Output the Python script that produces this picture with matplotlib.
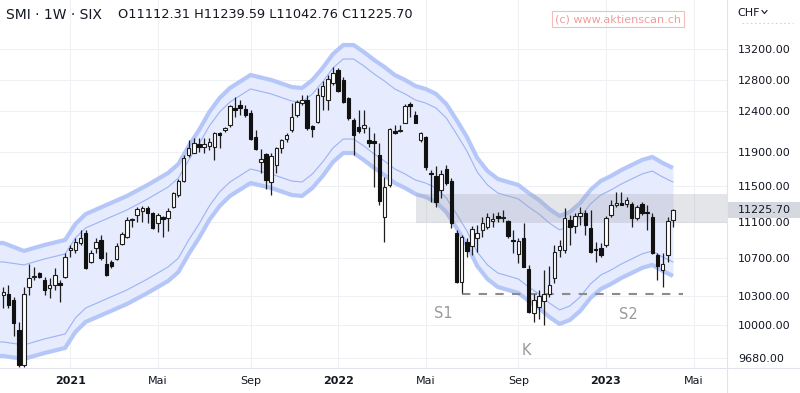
import numpy as np
import pandas as pd
import matplotlib
matplotlib.use("Agg")
import matplotlib.pyplot as plt
from matplotlib.ticker import NullLocator
from matplotlib.patches import Rectangle
from matplotlib.lines import Line2D

# weekly SMI candles, first week starts Monday 2020-10-05
start = pd.Timestamp("2020-10-05")

opens = [10311, 10321, 10260, 9955, 9611, 10398, 10500, 10538, 10468, 10380,
         10415, 10440, 10495, 10788, 10788, 10860, 10970, 10662, 10806, 10897,
         10634, 10655, 10687, 10853, 10934, 11118, 11173, 11222, 11248, 11192,
         11080, 11155, 11136, 11267, 11400, 11562, 11867, 11895, 11995, 11967,
         11975, 11967, 12120, 12169, 12230, 12437, 12478, 12424, 12383, 12087,
         11787, 11879, 11550, 11749, 11955, 12059, 12169, 12354, 12499, 12541,
         12218, 12271, 12593, 12541, 12754, 12925, 12796, 12562, 12292, 12201,
         12189, 12047, 12035, 11867, 11150, 11515, 12157, 12160, 12255, 12487,
         12354, 12047, 12087, 11660, 11620, 11458, 11702, 11562, 10974, 10447,
         10875, 10831, 10919, 11007, 11040, 11110, 11162, 11140, 11107, 10897,
         10745, 10915, 10584, 10124, 10188, 10245, 10321, 10488, 10788, 10788,
         11118, 11051, 11162, 11200, 11030, 10797, 10806, 10842, 11173, 11290,
         11313, 11298, 11298, 11140, 11298, 11210, 11150, 10734, 10573, 10734,
         11112.31]
highs = [10398, 10415, 10295, 10040, 10398, 10637, 10610, 10555, 10503, 10485,
         10590, 10468, 10752, 10842, 10915, 11007, 11007, 10788, 10915, 10952,
         10770, 10680, 10860, 10988, 11148, 11136, 11267, 11275, 11275, 11210,
         11192, 11165, 11248, 11438, 11581, 11867, 12047, 12067, 12067, 12067,
         12067, 12148, 12140, 12209, 12478, 12574, 12541, 12478, 12416, 12169,
         11935, 11895, 11887, 11963, 12063, 12136, 12507, 12541, 12605, 12605,
         12230, 12689, 12787, 12860, 12970, 12946, 12838, 12583, 12313, 12416,
         12416, 12209, 12135, 12007, 11608, 12193, 12230, 12230, 12487, 12520,
         12408, 12148, 12096, 11690, 11737, 11690, 11749, 11596, 11007, 10952,
         10915, 11051, 11062, 11155, 11200, 11192, 11210, 11230, 11118, 11007,
         10915, 11080, 10627, 10321, 10363, 10573, 10616, 10842, 10897, 11248,
         11173, 11192, 11267, 11230, 11230, 10875, 10860, 11162, 11343, 11438,
         11438, 11381, 11320, 11286, 11320, 11286, 11200, 10752, 10752, 11155,
         11239.59]
lows = [10177, 10177, 9890, 9595, 9595, 10311, 10468, 10485, 10311, 10277,
        10363, 10240, 10485, 10716, 10752, 10842, 10580, 10645, 10752, 10680,
        10510, 10590, 10680, 10842, 10915, 11045, 11100, 11100, 11080, 11015,
        10988, 10934, 11000, 11248, 11374, 11550, 11847, 11887, 11907, 11887,
        11927, 11808, 11947, 12148, 12209, 12334, 12354, 12334, 12047, 11927,
        11651, 11466, 11400, 11651, 11887, 12027, 12148, 12334, 12478, 12169,
        12087, 12251, 12416, 12416, 12732, 12640, 12499, 12292, 11867, 12128,
        12128, 11967, 11490, 11286, 10875, 11492, 12120, 12140, 12251, 12334,
        12251, 12027, 11690, 11320, 11260, 11366, 11515, 11030, 10433, 10335,
        10716, 10734, 10770, 10934, 11015, 11040, 11100, 11100, 10915, 10760,
        10652, 10600, 10130, 10030, 10066, 10005, 10295, 10433, 10716, 10752,
        10842, 10974, 11062, 10952, 10752, 10662, 10716, 10824, 11155, 11267,
        11286, 11267, 11040, 11118, 11173, 11007, 10742, 10468, 10398, 10662,
        11042.76]
closes = [10342, 10208, 10025, 9611, 10321, 10485, 10505, 10503, 10363, 10415,
          10520, 10420, 10709, 10806, 10879, 10922, 10591, 10752, 10879, 10698,
          10520, 10616, 10831, 10963, 11118, 11129, 11237, 11256, 11200, 11025,
          11173, 11125, 11222, 11426, 11565, 11832, 11947, 12007, 11967, 11995,
          12027, 12128, 12112, 12189, 12466, 12416, 12437, 12354, 12059, 11939,
          11816, 11573, 11851, 11955, 12051, 12108, 12325, 12520, 12541, 12193,
          12177, 12605, 12720, 12805, 12886, 12652, 12520, 12313, 12108, 12160,
          12230, 12015, 12011, 11331, 11492, 12181, 12133, 12175, 12466, 12466,
          12255, 12128, 11726, 11645, 11320, 11643, 11538, 11085, 10447, 10930,
          10777, 11018, 10974, 11085, 11155, 11125, 11136, 11150, 10941, 10880,
          10886, 10605, 10136, 10260, 10300, 10321, 10415, 10770, 10831, 11140,
          11040, 11162, 11192, 11062, 10766, 10788, 10734, 11140, 11286, 11305,
          11290, 11343, 11140, 11260, 11196, 11192, 10750, 10616, 10637, 11107,
          11225.70]

# envelope (read at candle index positions)
band_idx = [-1, 0, 4, 8, 12, 14, 16, 20, 24, 28, 32, 34, 36, 38, 40, 42, 44, 48, 52, 56,
            58, 60, 62, 64, 66, 68, 70, 72, 74, 76, 78, 80, 82, 84, 86, 88, 90, 92, 94, 96,
            98, 100, 102, 104, 106, 108, 110, 112, 114, 116, 118, 120, 122, 124, 126, 128, 130]
band_upper = [10864, 10864, 10777, 10842, 10897, 11073, 11184, 11286, 11389, 11515,
              11655, 11761, 11975, 12169, 12391, 12566, 12693, 12860, 12796, 12706,
              12693, 12796, 12951, 13134, 13253, 13253, 13160, 13055, 12964, 12860,
              12796, 12719, 12681, 12618, 12491, 12292, 12084, 11832, 11678, 11585,
              11550, 11515, 11423, 11343, 11241, 11162, 11207, 11309, 11458, 11562,
              11620, 11690, 11749, 11808, 11844, 11773, 11714]
band_upper_in = [10659, 10659, 10627, 10691, 10745, 10919, 11029, 11129, 11230, 11354,
                 11492, 11596, 11808, 11999, 12218, 12391, 12516, 12681, 12618, 12528,
                 12516, 12618, 12770, 12951, 13068, 13068, 12977, 12873, 12783, 12681,
                 12618, 12541, 12503, 12441, 12317, 12120, 11915, 11667, 11515, 11423,
                 11389, 11354, 11264, 11184, 11084, 11007, 11051, 11151, 11298, 11400,
                 11458, 11527, 11585, 11643, 11678, 11608, 11550]
band_lower_in = [9836, 9836, 9806, 9866, 9915, 10076, 10177, 10270, 10363, 10478,
                 10606, 10701, 10897, 11073, 11275, 11435, 11550, 11702, 11643, 11561,
                 11550, 11643, 11784, 11951, 12059, 12059, 11975, 11879, 11796, 11702,
                 11643, 11573, 11538, 11481, 11366, 11184, 10996, 10766, 10627, 10541,
                 10510, 10478, 10394, 10321, 10229, 10157, 10198, 10291, 10426, 10520,
                 10573, 10637, 10691, 10745, 10777, 10712, 10659]
band_lower = [9698, 9698, 9670, 9727, 9777, 9935, 10036, 10126, 10218, 10332,
              10457, 10552, 10745, 10919, 11118, 11275, 11389, 11538, 11481, 11400,
              11389, 11481, 11619, 11784, 11891, 11891, 11808, 11714, 11631, 11538,
              11481, 11412, 11377, 11320, 11207, 11029, 10842, 10616, 10478, 10394,
              10363, 10332, 10250, 10177, 10086, 10015, 10056, 10147, 10280, 10373,
              10426, 10489, 10541, 10595, 10627, 10563, 10510]

# resistance zone and support line
zone_lo, zone_hi = 11080, 11416
zone_start = 80.1
support = 10320
support_from, support_to = 89.1, 132.0

ytick_vals = [9680, 10000, 10300, 10700, 11100, 11500, 11900, 12400, 12800, 13200]
xtick_dates = ["2021-01-01", "2021-05-01", "2021-09-01", "2022-01-01",
               "2022-05-01", "2022-09-01", "2023-01-01", "2023-05-01"]
xtick_labels = ["2021", "Mai", "Sep", "2022", "Mai", "Sep", "2023", "Mai"]

marks = [("S1", 85.4, 10126), ("K", 101.5, 9747), ("S2", 121.3, 10106)]

o = np.array(opens); h = np.array(highs); l = np.array(lows); c = np.array(closes)
x = np.arange(len(o))

W, H = 800, 393
fig = plt.figure(figsize=(W / 100, H / 100), dpi=100)
ax = fig.add_axes([0, 25 / H, 727 / W, 368 / H])
ax.set_yscale("log")

# band
ax.fill_between(band_idx, band_lower, band_upper, color="#e6ebfd", lw=0, zorder=1)
for vals in (band_upper, band_lower):
    ax.plot(band_idx, vals, color="#b5c7f8", lw=3.0, solid_capstyle="butt", zorder=1.5)
for vals in (band_upper_in, band_lower_in):
    ax.plot(band_idx, vals, color="#9cb3f4", lw=0.8, zorder=1.6)

# zone + support
ax.fill_between([zone_start, 141], zone_lo, zone_hi, color="#a0a3ad", alpha=0.28, lw=0, zorder=2)
ax.plot([support_from, support_to], [support, support], color="#8c8c8c", lw=1.5,
        linestyle=(0, (4, 4)), zorder=2.5)

# candles
up = c >= o
bottoms = np.minimum(o, c)
heights = np.maximum(np.abs(c - o), bottoms * 0.0012)
ax.vlines(x, l, h, color="#1e1e1e", lw=0.9, zorder=3)
ax.bar(x[up], heights[up], bottom=bottoms[up], width=0.68, color="white",
       edgecolor="#1e1e1e", linewidth=0.8, zorder=4)
ax.bar(x[~up], heights[~up], bottom=bottoms[~up], width=0.68, color="#111111",
       edgecolor="#111111", linewidth=0.8, zorder=4)

for txt, xi, yi in marks:
    ax.text(xi, yi, txt, fontsize=10.5, color="#9a9a9a", ha="center", va="center", zorder=5)

# axes styling
ax.set_xlim(-0.64, 140.5)
ax.set_ylim(9582, 13866)
ax.yaxis.tick_right()
ax.set_yticks(ytick_vals, labels=[f"{v:.2f}" for v in ytick_vals])
ax.yaxis.set_minor_locator(NullLocator())
xt = [int(np.ceil((pd.Timestamp(d) - start).days / 7)) for d in xtick_dates]
ax.set_xticks(xt, labels=xtick_labels)
for lbl in ax.get_xticklabels():
    if lbl.get_text().isdigit():
        lbl.set_fontweight("bold")
ax.tick_params(axis="y", length=0, pad=8, labelsize=8, labelcolor="#131722")
ax.tick_params(axis="x", length=0, pad=6, labelsize=8, labelcolor="#131722")
ax.grid(True, color="#eef0f3", lw=0.8)
ax.set_axisbelow(True)
for s in ax.spines.values():
    s.set_visible(False)

fig.add_artist(Line2D([727 / W, 727 / W], [0, 1], color="#e0e3eb", lw=0.8))
fig.add_artist(Line2D([0, 1], [25 / H, 25 / H], color="#e0e3eb", lw=0.8))

# header
fig.text(6 / W, 1 - 15 / H, "SMI · 1W · SIX", fontsize=10, color="#131722", va="center")
fig.text(118 / W, 1 - 15 / H,
         f"O{o[-1]:.2f} H{h[-1]:.2f} L{l[-1]:.2f} C{c[-1]:.2f}",
         fontsize=9.3, color="#131722", va="center")
fig.text(618 / W, 1 - 19 / H, "(c) www.aktienscan.ch", fontsize=8, color="#f29c9c",
         ha="center", va="center",
         bbox=dict(boxstyle="square,pad=0.25", fc="none", ec="#f6bcbc", lw=0.8))
fig.text(737 / W, 1 - 13 / H, "CHF", fontsize=8, color="#131722", va="center")
cy = 1 - 12 / H
fig.add_artist(Line2D([762 / W, 764.5 / W, 767 / W], [cy + 1.5 / H, cy - 1.5 / H, cy + 1.5 / H],
                      color="#131722", lw=0.8))
fig.add_artist(Line2D([742 / W, 793 / W], [1 - 23 / H, 1 - 23 / H], color="#c8cad0",
                      lw=0.6, linestyle=(0, (2, 3))))

# last price marker on the axis
yf = ax.transData.transform((0, c[-1]))[1] / fig.bbox.height
fig.add_artist(Rectangle((728 / W, yf - 8 / H), 72 / W, 16 / H, transform=fig.transFigure,
                         fc="#d5d8df", ec="none"))
fig.text(738 / W, yf, f"{c[-1]:.2f}", fontsize=8, color="#131722", va="center")

fig.savefig("out.png", dpi=100)
